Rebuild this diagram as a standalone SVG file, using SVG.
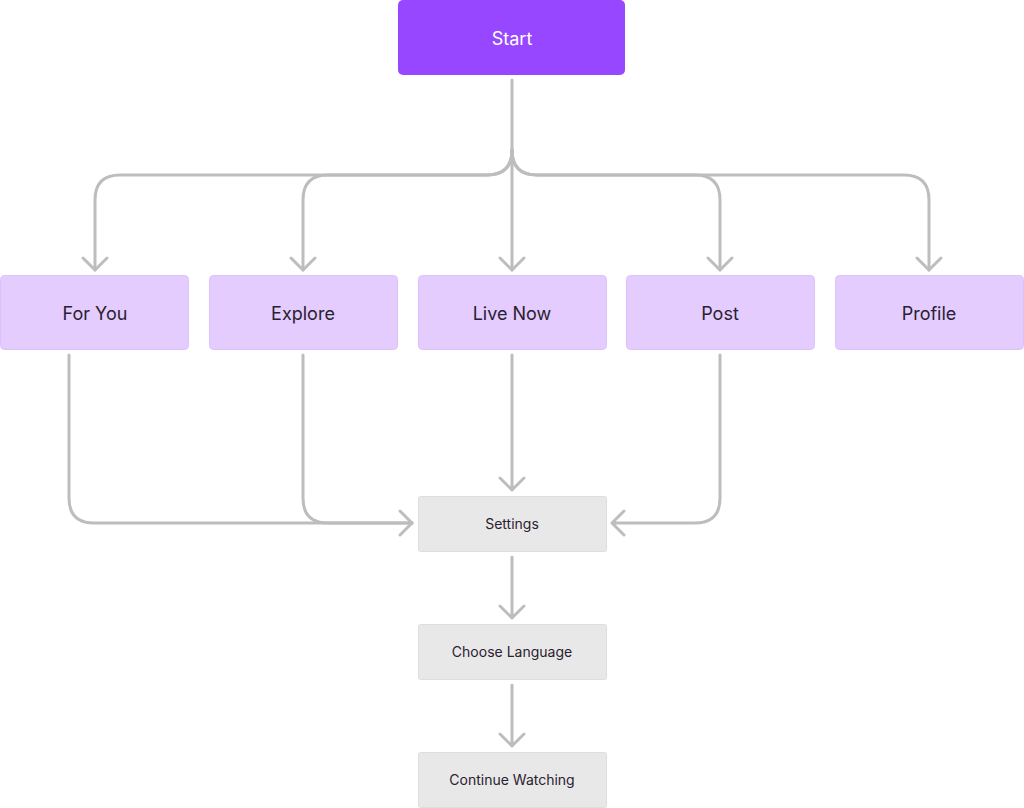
<svg xmlns="http://www.w3.org/2000/svg" width="1024" height="808" viewBox="0 0 1024 808">
<style>
.c{fill:none;stroke:#BDBDBD;stroke-width:3;stroke-linecap:round;stroke-linejoin:round}
.t{font-family:Inter,"Liberation Sans",sans-serif;fill:#2A2130;text-anchor:middle;dominant-baseline:central}
.p{fill:#E4CCFF;stroke:#DCC2FA;stroke-width:1}
.g{fill:#E8E8E8;stroke:#DDDDDD;stroke-width:1}
</style>
<rect width="1024" height="808" fill="#fff"/>
<g id="connectors" class="c">
<path d="M512 80V270"/>
<path d="M512 150Q512 175 487 175H120Q95 175 95 200V270"/>
<path d="M512 150Q512 175 487 175H328Q303 175 303 200V270"/>
<path d="M512 150Q512 175 537 175H695Q720 175 720 200V270"/>
<path d="M512 150Q512 175 537 175H904Q929 175 929 200V270"/>
<path d="M83 258L95 270L107 258M291 258L303 270L315 258M500 258L512 270L524 258M708 258L720 270L732 258M917 258L929 270L941 258"/>
<path d="M69 355V498Q69 523 94 523H412"/>
<path d="M303 355V498Q303 523 328 523H412"/>
<path d="M400 511L412 523L400 535"/>
<path d="M512 355V490M500 478L512 490L524 478"/>
<path d="M720 355V498Q720 523 695 523H612M624 511L612 523L624 535"/>
<path d="M512 557V618M500 606L512 618L524 606"/>
<path d="M512 685V746M500 734L512 746L524 734"/>
</g>
<g id="start"><rect x="398" y="0" width="227" height="75" rx="5" fill="#9747FF"/><text class="t" x="512" y="38" font-size="18" fill="#fff" style="fill:#fff">Start</text></g>
<g id="foryou"><rect class="p" x="0.5" y="275.5" width="188" height="74" rx="4"/><text class="t" x="95" y="313" font-size="18">For You</text></g>
<g id="explore"><rect class="p" x="209.5" y="275.5" width="188" height="74" rx="4"/><text class="t" x="303" y="313" font-size="18">Explore</text></g>
<g id="livenow"><rect class="p" x="418.5" y="275.5" width="188" height="74" rx="4"/><text class="t" x="512" y="313" font-size="18">Live Now</text></g>
<g id="post"><rect class="p" x="626.5" y="275.5" width="188" height="74" rx="4"/><text class="t" x="720" y="313" font-size="18">Post</text></g>
<g id="profile"><rect class="p" x="835.5" y="275.5" width="188" height="74" rx="4"/><text class="t" x="929" y="313" font-size="18">Profile</text></g>
<g id="settings"><rect class="g" x="418.5" y="496.5" width="188" height="55" rx="2"/><text class="t" x="512" y="523" font-size="14">Settings</text></g>
<g id="language"><rect class="g" x="418.5" y="624.5" width="188" height="55" rx="2"/><text class="t" x="512" y="651" font-size="14">Choose Language</text></g>
<g id="continue"><rect class="g" x="418.5" y="752.5" width="188" height="55" rx="2"/><text class="t" x="512" y="779" font-size="14">Continue Watching</text></g>
</svg>
